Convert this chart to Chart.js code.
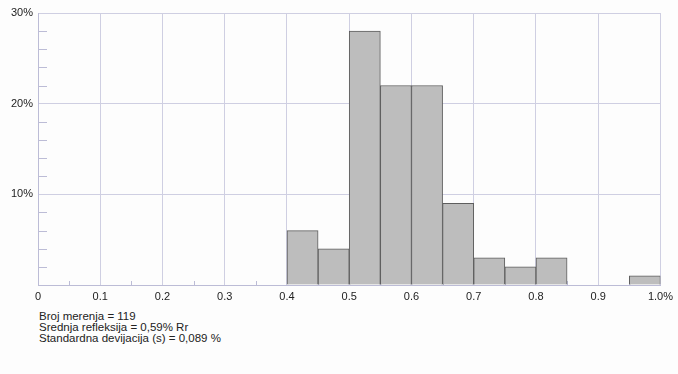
<!DOCTYPE html>
<html lang="sr">
<head>
    <meta charset="UTF-8">
    <title>Histogram refleksije</title>
    <style>
        body {
            margin: 0;
            padding: 0;
            background: #fdfdfd;
            font-family: "Liberation Sans", Arial, sans-serif;
            width: 678px;
            height: 374px;
            overflow: hidden;
        }
        .chart-box {
            position: relative;
            width: 678px;
            height: 305px;
        }
        .info {
            margin: 6px 0 0 39px;
            font-size: 11.5px;
            line-height: 11px;
            color: #222;
        }
        .info p { margin: 0; }
    </style>
</head>
<body>
    <div class="chart-box">
        <canvas id="histChart"></canvas>
    </div>
    <div class="info">
        <p>Broj merenja = 119</p>
        <p>Srednja refleksija = 0,59% Rr</p>
        <p>Standardna devijacija (s) = 0,089 %</p>
    </div>

    <script src="https://cdn.jsdelivr.net/npm/chart.js"></script>
    <script>
        // podaci histograma (pocetak klase, sirina 0.05)
        const binStarts = [0.40, 0.45, 0.50, 0.55, 0.60, 0.65, 0.70, 0.75, 0.80, 0.95];
        const binPercent = [6, 4, 28, 22, 22, 9, 3, 2, 3, 1];
        const binWidth = 0.05;
        const xTickLabels = ['0', '0.1', '0.2', '0.3', '0.4', '0.5', '0.6', '0.7', '0.8', '0.9', '1.0%'];
        const yTickLabels = ['', '10%', '20%', '30%'];

        const gridColor = '#cfcfe2';
        const axisColor = '#bcbcd6';

        // male crtice na osama (unutar grafika)
        const minorTicks = {
            id: 'minorTicks',
            beforeDatasetsDraw(chart) {
                const c = chart.ctx;
                const xs = chart.scales.x, ys = chart.scales.y;
                c.save();
                c.strokeStyle = axisColor;
                c.lineWidth = 1;
                c.beginPath();
                for (let v = 2; v < 30; v += 2) {
                    if (v % 10 === 0) continue;
                    const py = Math.round(ys.getPixelForValue(v)) + 0.5;
                    c.moveTo(xs.left, py);
                    c.lineTo(xs.left + 9, py);
                }
                for (let i = 0; i < 10; i++) {
                    const px = Math.round(xs.getPixelForValue(i / 10 + 0.05)) + 0.5;
                    c.moveTo(px, ys.bottom);
                    c.lineTo(px, ys.bottom - 4);
                }
                c.stroke();
                c.restore();
            }
        };

        const ctx = document.getElementById('histChart').getContext('2d');
        new Chart(ctx, {
            type: 'bar',
            data: {
                datasets: [{
                    data: binStarts.map((s, i) => ({ x: s + binWidth / 2, y: binPercent[i] })),
                    backgroundColor: '#bdbdbd',
                    borderColor: '#5e5e5e',
                    borderWidth: 1,
                    barPercentage: 1,
                    categoryPercentage: 1
                }]
            },
            options: {
                responsive: true,
                maintainAspectRatio: false,
                animation: false,
                layout: { padding: { left: 0, right: 13, top: 13, bottom: 0 } },
                plugins: { legend: { display: false }, tooltip: { enabled: false } },
                scales: {
                    x: {
                        type: 'linear',
                        min: 0,
                        max: 1,
                        offset: false,
                        grid: { color: gridColor, drawTicks: false, offset: false },
                        border: { color: axisColor },
                        ticks: {
                            stepSize: 0.1,
                            padding: 5,
                            maxRotation: 0,
                            color: '#222',
                            font: { family: '"Liberation Sans", Arial, sans-serif', size: 11 },
                            callback: (v) => xTickLabels[Math.round(v * 10)]
                        },
                        afterFit: (s) => { s.height = 20; }
                    },
                    y: {
                        min: 0,
                        max: 30,
                        grid: { color: gridColor, drawTicks: false },
                        border: { color: axisColor },
                        ticks: {
                            stepSize: 10,
                            padding: 5,
                            color: '#222',
                            font: { family: '"Liberation Sans", Arial, sans-serif', size: 11 },
                            callback: (v) => yTickLabels[Math.round(v / 10)]
                        },
                        afterFit: (s) => { s.width = 38; }
                    }
                }
            },
            plugins: [minorTicks]
        });
    </script>
</body>
</html>
